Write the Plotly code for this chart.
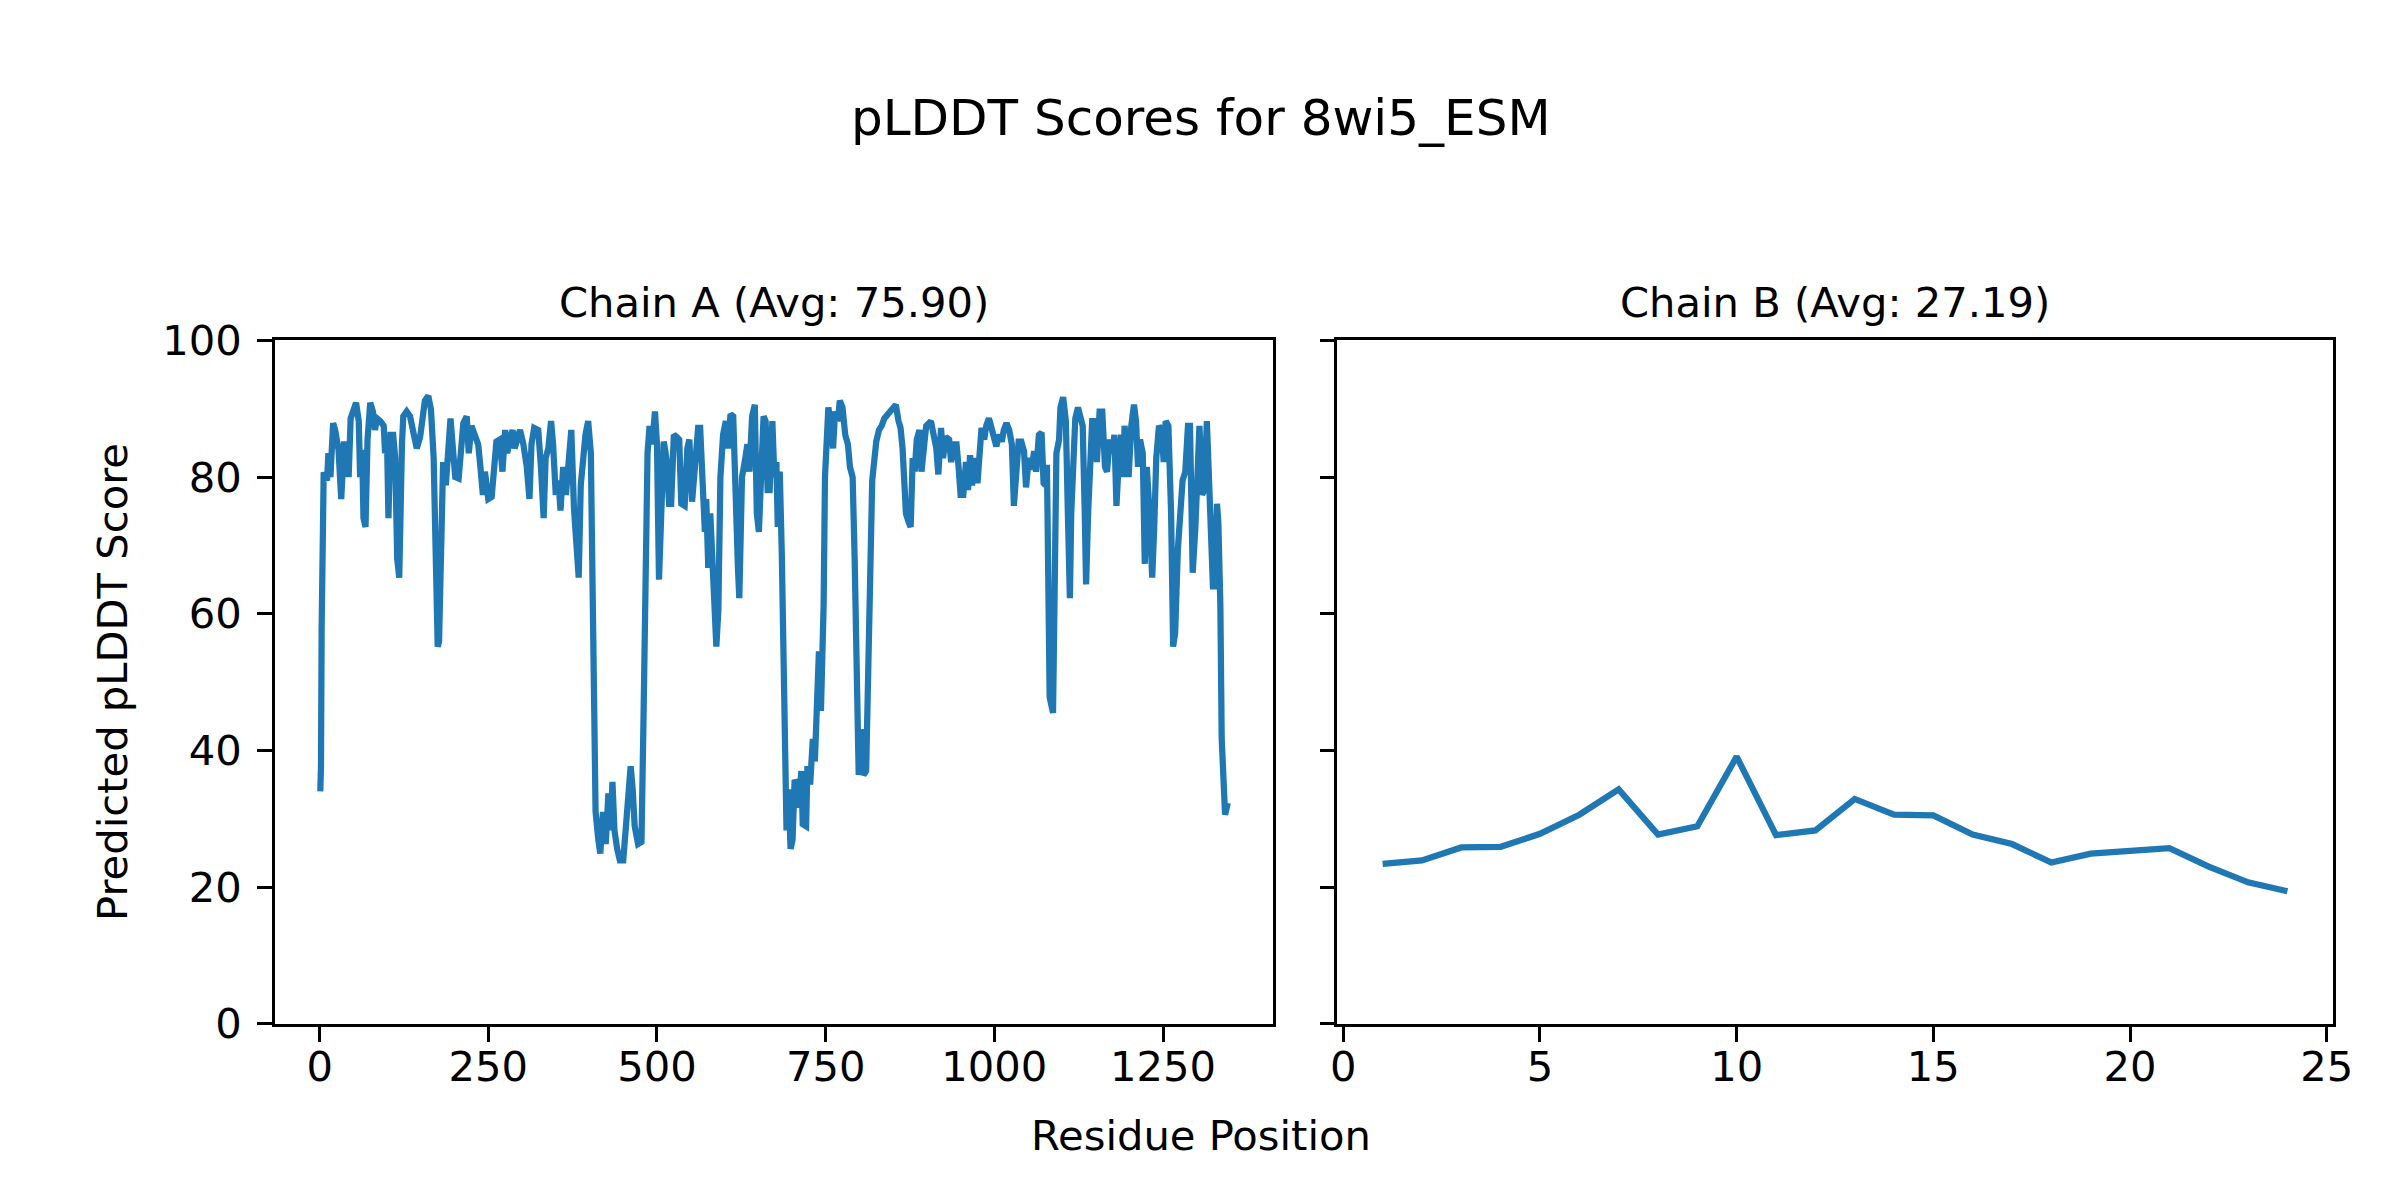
import plotly.graph_objects as go

# ---- Chain A ----
residue_a = [
    1, 2, 3, 5, 6, 11, 13, 16, 20, 23, 28, 32, 34, 36, 40, 43, 46, 50, 54, 58,
    60, 63, 65, 68, 71, 75, 79, 82, 85, 90, 95, 97, 100, 102, 105, 109, 112, 115, 118, 122,
    124, 129, 134, 139, 144, 149, 153, 156, 161, 165, 169, 172, 175, 177, 179, 181, 183, 187, 191, 194,
    197, 201, 206, 209, 213, 218, 221, 225, 230, 235, 238, 242, 245, 250, 255, 258, 262, 267, 271, 275,
    278, 282, 286, 289, 294, 297,
    302, 307, 311, 314, 318, 324, 328, 332, 335, 339, 343, 346, 350, 354, 357, 361, 365, 368, 373, 377,
    381, 384, 387, 391, 394, 398, 402, 404, 406, 409, 413, 416, 420, 424, 428, 431, 434, 437, 441, 445,
    450, 454, 457, 461, 464, 467, 472, 477, 480, 483, 486, 489, 493, 497, 500, 503, 507, 510, 514, 518,
    521, 525, 529, 533, 536, 541, 545, 548, 552, 557, 561, 564, 568, 571, 573, 576, 579, 582, 584, 588,
    591, 594, 598, 602, 605, 609, 613, 617, 620, 622, 626, 630, 634, 637, 641, 645, 648, 651, 654, 658,
    661, 664,
    667, 671, 674, 677, 679, 682, 685, 687, 690, 692, 695, 698, 701, 704, 707, 710, 714, 716, 721, 723,
    727, 731, 734, 737, 740, 743, 747, 749, 752, 754, 758, 761, 764, 768, 771, 775, 779, 783, 786, 790,
    793, 796, 799, 802, 806, 810, 813, 816, 819, 822, 825, 829, 833, 837, 842, 847, 850, 854, 858, 861,
    864, 866, 869, 873, 876, 879, 882, 885, 889, 892, 896, 899, 906, 911, 914, 917, 921, 924, 928, 933,
    936, 940, 944, 947, 950, 954, 958, 961, 964, 967, 971, 975, 978, 981, 985, 988, 992, 996, 999, 1003,
    1007, 1011, 1014, 1018, 1022, 1026, 1029, 1033, 1036,
    1040, 1044, 1047, 1051, 1055, 1059, 1062, 1066, 1070, 1073, 1076, 1078, 1082, 1085, 1087, 1090, 1092, 1096, 1098, 1102,
    1106, 1109, 1112, 1114, 1117, 1120, 1124, 1128, 1131, 1134, 1136, 1139, 1142, 1145, 1149, 1152, 1156, 1160, 1164, 1167,
    1171, 1175, 1178, 1181, 1184, 1188, 1191, 1193, 1197, 1199, 1203, 1207, 1210, 1213, 1216, 1220, 1223, 1226, 1230, 1234,
    1237, 1240, 1244, 1248, 1251, 1254, 1258, 1262, 1265, 1268, 1272, 1276, 1279, 1283, 1287, 1290, 1294, 1298, 1301, 1304,
    1308, 1311, 1315, 1318, 1321, 1324, 1327, 1330, 1332, 1335, 1337, 1340, 1342, 1346,
]
plddt_a = [
    34.0, 37.7, 58.0, 80.0, 80.7, 79.5, 83.5, 80.0, 87.9, 86.9, 84.0, 76.8, 79.5, 84.8, 84.8, 80.0, 88.6, 90.2, 90.9, 88.2,
    80.0, 84.0, 74.0, 72.7, 85.5, 90.9, 89.6, 86.9, 88.6, 88.2, 87.5, 83.5, 84.8, 74.0, 86.2, 86.2, 82.8, 68.0, 65.3, 84.8,
    88.9, 89.6, 88.9, 86.5, 84.2, 85.9, 89.6, 91.2, 91.9, 89.9, 82.8, 64.6, 55.2, 55.9, 69.4, 78.1, 82.2, 78.8, 85.5, 88.6,
    84.8, 80.0, 79.8, 84.8, 87.9, 88.9, 83.5, 87.5, 86.2, 84.8, 81.8, 77.4, 80.8, 76.8, 77.1, 80.8, 85.2, 85.5, 80.8, 86.9,
    83.5, 85.5, 86.9, 84.2, 86.5, 86.9,
    84.8, 81.5, 76.8, 84.8, 87.2, 86.9, 81.5, 74.0, 82.8, 84.2, 88.2, 84.8, 77.4, 79.5, 75.1, 81.5, 77.4, 81.5, 86.9, 75.4,
    70.7, 65.3, 78.8, 83.5, 86.2, 88.2, 83.5, 68.0, 41.0, 31.0, 27.0, 24.9, 31.0, 26.3, 33.7, 28.3, 35.4, 28.3, 25.6, 23.9,
    23.9, 29.6, 31.0, 37.7, 34.3, 28.9, 26.3, 26.6, 44.4, 74.7, 83.5, 87.5, 84.8, 89.6, 84.8, 65.0, 79.5, 85.2, 82.8, 76.1,
    76.1, 86.2, 85.9, 85.5, 76.1, 75.8, 84.2, 85.5, 76.4, 83.5, 87.2, 87.2, 78.1, 72.0, 76.8, 66.7, 74.7, 66.0, 60.6, 55.2,
    60.6, 80.0, 86.2, 88.2, 84.2, 89.2, 88.9, 71.4, 66.7, 62.3, 80.0, 82.2, 84.8, 80.8, 88.9, 90.6, 74.7, 72.0, 81.5, 88.9,
    88.2, 78.1,
    78.1, 88.2, 80.0, 82.2, 72.7, 80.8, 68.7, 54.5, 33.7, 28.3, 34.3, 25.6, 27.0, 35.7, 35.0, 31.6, 37.0, 29.2, 28.9, 37.7,
    35.0, 41.7, 38.4, 46.5, 54.5, 45.8, 61.3, 80.0, 88.2, 90.2, 87.5, 84.2, 89.6, 88.2, 91.2, 90.2, 86.2, 84.8, 81.5, 80.0,
    68.0, 43.1, 36.4, 43.1, 36.4, 37.0, 47.8, 65.3, 79.5, 83.5, 85.2, 86.9, 87.5, 88.6, 89.2, 89.6, 89.9, 90.6, 88.2, 87.2,
    84.2, 78.8, 74.7, 73.4, 72.7, 82.8, 80.8, 85.5, 86.9, 80.8, 84.8, 87.5, 88.2, 85.5, 84.2, 80.4, 87.2, 82.8, 85.9, 85.5,
    82.2, 84.8, 84.8, 81.5, 77.4, 77.4, 82.2, 78.1, 83.2, 78.8, 82.8, 79.1, 84.2, 87.2, 85.5, 87.5, 88.6, 86.9, 86.2, 84.5,
    86.2, 85.2, 86.9, 87.9, 86.9, 84.8, 75.8, 81.5, 85.2,
    85.2, 83.8, 78.5, 82.8, 81.1, 83.8, 80.8, 86.2, 86.5, 79.1, 78.8, 81.8, 47.8, 46.8, 45.5, 68.0, 83.5, 85.5, 90.2, 91.7,
    88.2, 74.7, 62.3, 74.7, 82.2, 88.6, 90.2, 88.9, 87.5, 74.7, 64.3, 74.7, 85.5, 88.2, 88.2, 82.2, 89.6, 89.6, 81.5, 80.8,
    85.5, 83.5, 86.2, 75.8, 81.5, 86.2, 80.0, 87.5, 84.2, 80.0, 87.5, 90.6, 88.2, 81.5, 85.5, 83.5, 67.3, 81.5, 74.7, 65.3,
    72.7, 82.8, 87.5, 86.9, 82.2, 88.2, 87.5, 74.7, 55.2, 57.2, 69.4, 76.4, 79.5, 80.8, 87.5, 87.5, 66.0, 72.7, 82.8, 87.5,
    77.4, 78.1, 88.2, 79.5, 73.4, 64.0, 64.0, 76.1, 73.4, 61.3, 41.7, 34.3, 30.6, 32.3,
]

# ---- Chain B ----
residue_b = list(range(1, 25))
plddt_b = [23.4, 23.9, 25.8, 25.9, 27.8, 30.6, 34.3, 27.7, 28.9, 39.1, 27.6, 28.3,
           32.9, 30.6, 30.5, 27.7, 26.3, 23.6, 24.9, 25.3, 25.7, 23.0, 20.7, 19.4]

title_text = "pLDDT Scores for 8wi5_ESM"
chain_titles = ["Chain A (Avg: 75.90)", "Chain B (Avg: 27.19)"]
x_ticks_a = [0, 250, 500, 750, 1000, 1250]
x_ticks_b = [0, 5, 10, 15, 20, 25]
y_ticks = [0, 20, 40, 60, 80, 100]

W, H = 2400, 1200
FONT = "DejaVu Sans"
FS = 41.67
BLUE = "#1f77b4"

ax_left_a, ax_right_a = 263, 1273
ax_left_b, ax_right_b = 1338, 2345
ax_top, ax_bot = 321.6, 1034

def px_x(p):
    return p / W

def px_y(p):
    return 1 - p / H

def margin_range(vals):
    lo, hi = min(vals), max(vals)
    m = 0.05 * (hi - lo)
    return [lo - m, hi + m]

fig = go.Figure()
fig.add_trace(go.Scatter(x=residue_a, y=plddt_a, mode="lines",
                         line=dict(color=BLUE, width=6.25),
                         xaxis="x", yaxis="y", showlegend=False, hoverinfo="skip"))
fig.add_trace(go.Scatter(x=residue_b, y=plddt_b, mode="lines",
                         line=dict(color=BLUE, width=6.25),
                         xaxis="x2", yaxis="y2", showlegend=False, hoverinfo="skip"))

common = dict(showline=True, mirror=True, linecolor="black", linewidth=3.33,
              ticks="outside", ticklen=14.6, tickwidth=3.33, tickcolor="black",
              showgrid=False, zeroline=False,
              tickfont=dict(family=FONT, size=FS, color="black"))

fig.update_layout(
    width=W, height=H,
    margin=dict(l=0, r=0, t=0, b=0),
    paper_bgcolor="white", plot_bgcolor="white",
    font=dict(family=FONT, color="black"),
    xaxis=dict(domain=[px_x(ax_left_a), px_x(ax_right_a)], anchor="y",
               range=margin_range(residue_a), tickvals=x_ticks_a,
               ticklabelstandoff=-11, **common),
    xaxis2=dict(domain=[px_x(ax_left_b), px_x(ax_right_b)], anchor="y2",
                range=margin_range(residue_b), tickvals=x_ticks_b,
                ticklabelstandoff=-11, **common),
    yaxis=dict(domain=[px_y(ax_bot), px_y(ax_top)], anchor="x",
               range=[0, 100], tickvals=y_ticks, ticklabelstandoff=7, **common),
    yaxis2=dict(domain=[px_y(ax_bot), px_y(ax_top)], anchor="x2",
                range=[0, 100], tickvals=y_ticks, showticklabels=False, **common),
)

ann = [
    dict(text=title_text, x=0.5, y=px_y(90), font=dict(size=50, family=FONT, color="black")),
    dict(text=chain_titles[0], x=px_x((ax_left_a + ax_right_a) / 2), y=px_y(282),
         font=dict(size=FS, family=FONT, color="black")),
    dict(text=chain_titles[1], x=px_x((ax_left_b + ax_right_b) / 2), y=px_y(282),
         font=dict(size=FS, family=FONT, color="black")),
    dict(text="Residue Position", x=0.5, y=px_y(1150),
         font=dict(size=FS, family=FONT, color="black")),
    dict(text="Predicted pLDDT Score", x=px_x(98), y=px_y((ax_top + ax_bot) / 2), textangle=-90,
         font=dict(size=FS, family=FONT, color="black")),
]
for a in ann:
    a.update(xref="paper", yref="paper", showarrow=False, xanchor="center", yanchor="middle")
fig.update_layout(annotations=ann)

fig.write_html("out.html")
